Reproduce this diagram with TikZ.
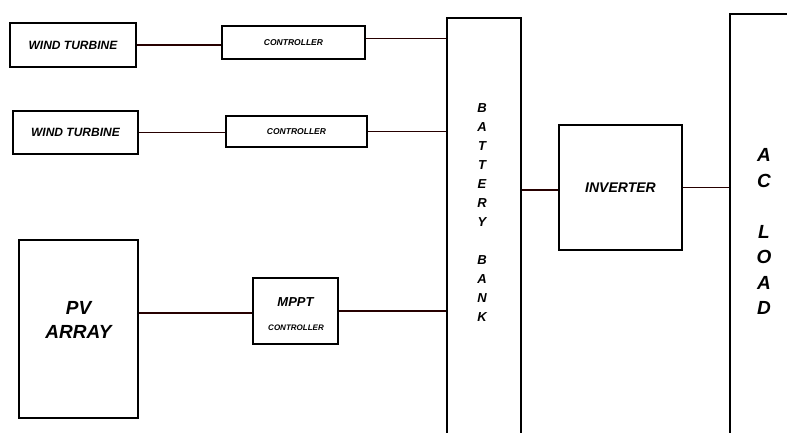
\documentclass[tikz,border=0pt]{standalone}
\usepackage{fontspec}
\setmainfont{Liberation Sans}
\begin{document}
\begin{tikzpicture}[x=1pt,y=-1pt,
  blk/.style={draw=black,line width=2.6pt,rectangle,inner sep=0pt,font=\bfseries\itshape,align=center},
  lbl/.style={inner sep=0pt,font=\bfseries\itshape,align=center},
  wire/.style={draw=black!85!red,line width=1.6pt}]
\useasboundingbox (0,0) rectangle (787,432);
% boxes
\node[blk,minimum width=126pt,minimum height=44pt,font=\fontsize{12}{14}\selectfont\bfseries\itshape] (wt1) at (73,45) {WIND TURBINE};
\node[blk,minimum width=143pt,minimum height=33pt,font=\fontsize{8.5}{10}\selectfont\bfseries\itshape] (c1) at (293.5,42.5) {CONTROLLER};
\node[blk,minimum width=125pt,minimum height=43pt,font=\fontsize{12}{14}\selectfont\bfseries\itshape] (wt2) at (75.5,132.5) {WIND TURBINE};
\node[blk,minimum width=141pt,minimum height=31pt,font=\fontsize{8.5}{10}\selectfont\bfseries\itshape] (c2) at (296.5,131.5) {CONTROLLER};
\node[blk,minimum width=119pt,minimum height=178pt] (pv) at (78.5,329) {};
\node[lbl,font=\fontsize{19}{24}\selectfont\bfseries\itshape] (pvt) at (78.5,320) {PV\\ARRAY};
\node[blk,minimum width=85pt,minimum height=66pt] (mppt) at (295.5,311) {};
\node[lbl,font=\fontsize{13}{16}\selectfont\bfseries\itshape] (mpptt) at (295.5,302) {MPPT};
\node[lbl,font=\fontsize{8}{10}\selectfont\bfseries\itshape] (mpptc) at (296,328) {CONTROLLER};
\node[blk,minimum width=74pt,minimum height=427pt] (bat) at (484,231.5) {};
\node[lbl,font=\fontsize{13}{19}\selectfont\bfseries\itshape] (batt) at (482,212.5) {B\\A\\T\\T\\E\\R\\Y\\[19pt]B\\A\\N\\K};
\node[blk,minimum width=123pt,minimum height=125pt,font=\fontsize{14}{16}\selectfont\bfseries\itshape] (inv) at (620.5,187.5) {INVERTER};
\node[blk,minimum width=74pt,minimum height=431pt] (ac) at (767,229.5) {};
\node[lbl,font=\fontsize{19}{25.5}\selectfont\bfseries\itshape] (act) at (764,231.5) {A\\C\\[25.5pt]L\\O\\A\\D};
% wires
\draw[wire] (wt1.east) -- (wt1.east -| c1.west);
\draw[wire] ([yshift=4pt]c1.east) -- ([yshift=4pt]c1.east -| bat.west);
\draw[wire] (wt2.east) -- (wt2.east -| c2.west);
\draw[wire] (c2.east) -- (c2.east -| bat.west);
\draw[wire] ([yshift=16pt]pv.east) -- ([yshift=16pt]pv.east -| mppt.west);
\draw[wire] (mppt.east) -- (mppt.east -| bat.west);
\draw[wire] ([yshift=-2.5pt]inv.west -| bat.east) -- ([yshift=-2.5pt]inv.west);
\draw[wire] (inv.east) -- (inv.east -| ac.west);
\end{tikzpicture}
\end{document}
